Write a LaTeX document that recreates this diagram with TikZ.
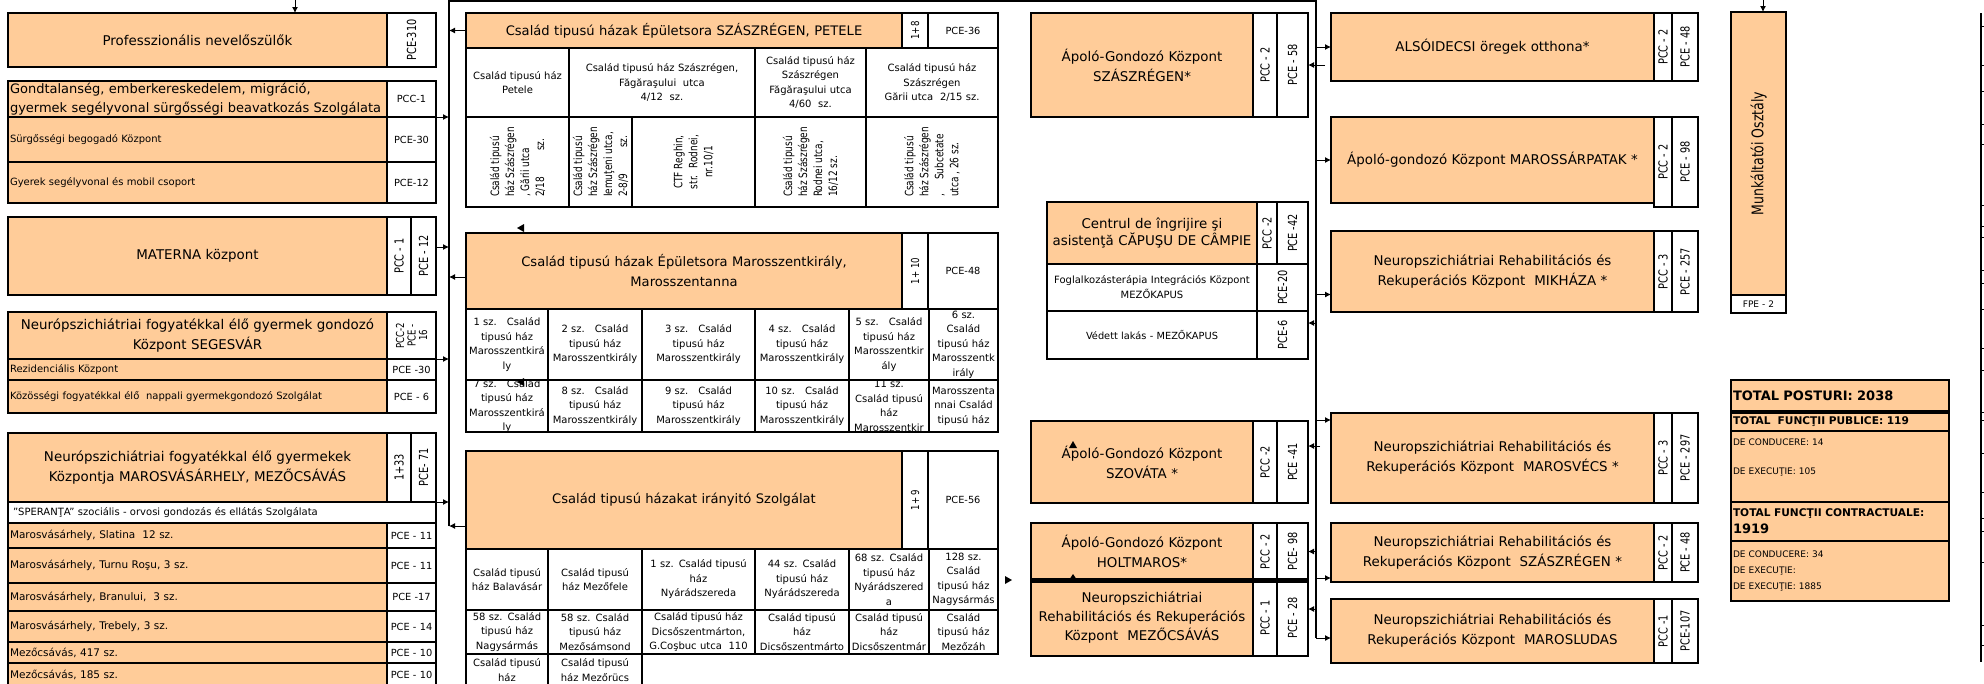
\documentclass[tikz,border=0pt]{standalone}
\usepackage{fontspec}
\setmainfont{DejaVu Sans}
\newfontfamily\narrowfont[FakeStretch=0.78]{DejaVu Sans}
\usetikzlibrary{arrows.meta}
\definecolor{orangefill}{RGB}{255,204,153}
\tikzset{
  cellbox/.style={draw, line width=2.8pt, inner sep=0pt, outer sep=0pt},
  org/.style={fill=orangefill},
  wht/.style={fill=white},
  hdr/.style={font=\fontsize{13.4}{20}\selectfont, align=center},
  sm/.style={font=\fontsize{10}{13}\selectfont, align=left},
  smE/.style={font=\fontsize{10.5}{13}\selectfont, align=left},
  lab/.style={font=\fontsize{9.8}{12}\selectfont, align=center},
  vlab/.style={font=\narrowfont\fontsize{12.5}{12}\selectfont, align=center},
  tbl/.style={font=\fontsize{10}{14.5}\selectfont, align=center},
  vtbl/.style={font=\narrowfont\fontsize{11.5}{15}\selectfont, align=left},
  tot/.style={font=\bfseries\fontsize{13}{16}\selectfont, align=left},
  totb/.style={font=\bfseries\fontsize{10.6}{17}\selectfont, align=left},
  det/.style={font=\fontsize{9}{16}\selectfont, align=left},
  bus/.style={line width=1.5pt},
  arr/.style={-{Latex[length=6pt,width=6pt]}, line width=1pt},
}
\begin{document}
\begin{tikzpicture}[x=1pt, y=-1pt]
      \def\unitbox#1#2#3#4#5#6#7{% name, style, x1, y1, x2, y2, text
        \pgfmathsetmacro\bw{#5-#3}\pgfmathsetmacro\bh{#6-#4}\pgfmathsetmacro\bt{#5-#3-4}%
        \node[cellbox, #2, minimum width=\bw pt, minimum height=\bh pt] (#1) at ({(#3+#5)/2},{(#4+#6)/2}) {};%
        \node[#2, draw=none, fill=none, inner sep=0pt, text width=\bt pt] (#1t) at (#1.center) {#7};}
      \def\rotbox#1#2#3#4#5#6#7{% name, style, x1, y1, x2, y2, text
        \pgfmathsetmacro\bw{#5-#3}\pgfmathsetmacro\bh{#6-#4}%
        \node[cellbox, wht, minimum width=\bw pt, minimum height=\bh pt] (#1) at ({(#3+#5)/2},{(#4+#6)/2}) {};%
        \node[vlab, #2, rotate=90, inner sep=0pt] (#1t) at (#1.center) {#7};}
      \def\tabbox#1#2#3#4#5#6{% name, x1, y1, x2, y2, text
        \pgfmathsetmacro\bw{#4-#2}\pgfmathsetmacro\bh{#5-#3}\pgfmathsetmacro\bt{#4-#2-4}%
        \node[cellbox, wht, line width=2pt, minimum width=\bw pt, minimum height=\bh pt] (#1) at ({(#2+#4)/2},{(#3+#5)/2}) {};%
        \begin{scope}\clip (#2+1,#3+1) rectangle (#4-1,#5-1);%
        \node[tbl, inner sep=0pt, text width=\bt pt] (#1t) at (#1.center) {#6};\end{scope}}
      \useasboundingbox (0,0) rectangle (1984,683);
      %
      % left column
      \unitbox{prof}{org, hdr}{8}{13}{387}{67}{Professzionális nevelőszülők}
      \rotbox{profc}{}{387}{13}{436}{67}{PCE-310}
      %
      \unitbox{gond}{org, align=left, font=\fontsize{13}{19}\selectfont}{8}{81}{387}{117}{Gondtalanség, emberkereskedelem, migráció,\\gyermek segélyvonal sürgősségi beavatkozás Szolgálata}
      \unitbox{gondc}{wht, lab}{387}{81}{436}{117}{PCC-1}
      \unitbox{surg}{org, sm}{8}{117}{387}{162}{Sürgősségi begogadó Központ}
      \unitbox{surgc}{wht, lab}{387}{117}{436}{162}{PCE-30}
      \unitbox{gyer}{org, sm}{8}{162}{387}{203}{Gyerek segélyvonal és mobil csoport}
      \unitbox{gyerc}{wht, lab}{387}{162}{436}{203}{PCE-12}
      %
      \unitbox{mat}{org, hdr}{8}{217}{387}{295}{MATERNA központ}
      \rotbox{mata}{}{387}{217}{411}{295}{PCC - 1}
      \rotbox{matb}{}{411}{217}{436}{295}{PCE - 12}
      %
      \unitbox{seg}{org, hdr}{8}{312}{387}{359}{Neurópszichiátriai fogyatékkal élő gyermek gondozó\\Központ SEGESVÁR}
      \rotbox{segc}{font=\narrowfont\fontsize{11}{11.5}\selectfont}{387}{312}{436}{359}{PCC-2\\PCE -\\16}
      \unitbox{rez}{org, sm}{8}{359}{387}{380}{Rezidenciális Központ}
      \unitbox{rezc}{wht, lab}{387}{359}{436}{380}{PCE -30}
      \unitbox{koz}{org, sm}{8}{380}{387}{413}{Közösségi fogyatékkal élő \ nappali gyermekgondozó Szolgálat}
      \unitbox{kozc}{wht, lab}{387}{380}{436}{413}{PCE - 6}
      %
      \unitbox{mvh}{org, hdr}{8}{433}{387}{502}{Neurópszichiátriai fogyatékkal élő gyermekek\\Központja MAROSVÁSÁRHELY, MEZŐCSÁVÁS}
      \rotbox{mvha}{}{387}{433}{411}{502}{1+33}
      \rotbox{mvhb}{}{411}{433}{436}{502}{PCE- 71}
      \unitbox{sper}{wht, sm}{8}{502}{436}{523}{\hspace{3pt}"SPERANŢA" szociális - orvosi gondozás és ellátás Szolgálata}
      \unitbox{slat}{org, smE}{8}{523}{387}{548}{Marosvásárhely, Slatina \ 12 sz.}
      \unitbox{slatc}{wht, lab}{387}{523}{436}{548}{PCE - 11}
      \unitbox{turn}{org, smE}{8}{548}{387}{583}{Marosvásárhely, Turnu Roşu, 3 sz.}
      \unitbox{turnc}{wht, lab}{387}{548}{436}{583}{PCE - 11}
      \unitbox{bran}{org, smE}{8}{583}{387}{611}{Marosvásárhely, Branului, \ 3 sz.}
      \unitbox{branc}{wht, lab}{387}{583}{436}{611}{PCE -17}
      \unitbox{treb}{org, smE}{8}{611}{387}{642}{Marosvásárhely, Trebely, 3 sz.}
      \unitbox{trebc}{wht, lab}{387}{611}{436}{642}{PCE - 14}
      \unitbox{mcsa}{org, smE}{8}{642}{387}{663}{Mezőcsávás, 417 sz.}
      \unitbox{mcsac}{wht, lab}{387}{642}{436}{663}{PCE - 10}
      \unitbox{mcsb}{org, smE}{8}{663}{387}{686}{Mezőcsávás, 185 sz.}
      \unitbox{mcsbc}{wht, lab}{387}{663}{436}{686}{PCE - 10}
      %
      % middle: Szászrégen, Petele
      \unitbox{fhdr}{org, hdr, font=\fontsize{13.1}{20}\selectfont}{466}{13}{902}{48}{Család tipusú házak Épületsora SZÁSZRÉGEN, PETELE}
      \rotbox{fa}{font=\narrowfont\fontsize{11}{12}\selectfont}{902}{13}{928}{48}{1+8}
      \unitbox{fb}{wht, lab}{928}{13}{998}{48}{PCE-36}
      \tabbox{f1}{466}{48}{569}{117}{Család tipusú ház\\Petele}
      \tabbox{f2}{569}{48}{755}{117}{Család tipusú ház Szászrégen,\\Făgăraşului \ utca\\4/12 \ sz.}
      \tabbox{f3}{755}{48}{866}{117}{Család tipusú ház\\Szászrégen\\Făgăraşului utca\\4/60 \ sz.}
      \tabbox{f4}{866}{48}{998}{117}{Család tipusú ház\\Szászrégen\\Gării utca \ 2/15 sz.}
      \rotbox{f5}{vtbl}{466}{117}{569}{207}{Család tipusú\\ház Szászrégen\\, Gării utca\\2/18 \qquad sz.}
      \rotbox{f6}{vtbl}{569}{117}{632}{207}{Család tipusú\\ház Szászrégen\\Iemuţeni utca,\\2-8/9 \qquad sz.}
      \rotbox{f7}{vtbl, align=center}{632}{117}{755}{207}{CTF Reghin,\\str. \ Rodnei,\\nr.10/1}
      \rotbox{f8}{vtbl}{755}{117}{866}{207}{Család tipusú\\ház Szászrégen\\Rodnei utca,\\16/12 sz.}
      \rotbox{f9}{vtbl}{866}{117}{998}{207}{Család tipusú\\ház Szászrégen\\, \quad Subcetate\\utca , 26 sz.}
      %
      % middle: Marosszentkirály, Marosszentanna
      \unitbox{ghdr}{org, hdr, font=\fontsize{13.1}{20}\selectfont}{466}{233}{902}{309}{Család tipusú házak Épületsora Marosszentkirály,\\Marosszentanna}
      \rotbox{ga}{font=\narrowfont\fontsize{11}{12}\selectfont}{902}{233}{928}{309}{1+ 10}
      \unitbox{gb}{wht, lab}{928}{233}{998}{309}{PCE-48}
      \tabbox{g1}{466}{309}{548}{380}{1 sz.\quad Család\\tipusú ház\\Marosszentkirá\\ly}
      \tabbox{g2}{548}{309}{642}{380}{2 sz.\quad Család\\tipusú ház\\Marosszentkirály}
      \tabbox{g3}{642}{309}{755}{380}{3 sz.\quad Család\\tipusú ház\\Marosszentkirály}
      \tabbox{g4}{755}{309}{849}{380}{4 sz.\quad Család\\tipusú ház\\Marosszentkirály}
      \tabbox{g5}{849}{309}{929}{380}{5 sz.\quad Család\\tipusú ház\\Marosszentkir\\ály}
      \tabbox{g6}{929}{309}{998}{380}{6 sz.\\Család\\tipusú ház\\Marosszentk\\irály}
      \tabbox{g7}{466}{380}{548}{432}{7 sz.\quad Család\\tipusú ház\\Marosszentkirá\\ly}
      \tabbox{g8}{548}{380}{642}{432}{8 sz.\quad Család\\tipusú ház\\Marosszentkirály}
      \tabbox{g9}{642}{380}{755}{432}{9 sz.\quad Család\\tipusú ház\\Marosszentkirály}
      \tabbox{g10}{755}{380}{849}{432}{10 sz.\quad Család\\tipusú ház\\Marosszentkirály}
      \tabbox{g11}{849}{380}{929}{432}{11 sz.\\Család tipusú\\ház\\Marosszentkir}
      \tabbox{g12}{929}{380}{998}{432}{Marosszenta\\nnai Család\\tipusú ház}
      %
      % middle: irányitó Szolgálat
      \unitbox{hhdr}{org, hdr, font=\fontsize{13.1}{20}\selectfont}{466}{451}{902}{549}{Család tipusú házakat irányitó Szolgálat}
      \rotbox{ha}{font=\narrowfont\fontsize{11}{12}\selectfont}{902}{451}{928}{549}{1+ 9}
      \unitbox{hb}{wht, lab}{928}{451}{998}{549}{PCE-56}
      \tabbox{h1}{466}{549}{548}{610}{Család tipusú\\ház Balavásár}
      \tabbox{h2}{548}{549}{642}{610}{Család tipusú\\ház Mezőfele}
      \tabbox{h3}{642}{549}{755}{610}{1 sz. Család tipusú\\ház\\Nyárádszereda}
      \tabbox{h4}{755}{549}{849}{610}{44 sz. Család\\tipusú ház\\Nyárádszereda}
      \tabbox{h5}{849}{549}{929}{610}{68 sz. Család\\tipusú ház\\Nyárádszered\\a}
      \tabbox{h6}{929}{549}{998}{610}{128 sz.\\Család\\tipusú ház\\Nagysármás}
      \tabbox{h7}{466}{610}{548}{654}{58 sz. Család\\tipusú ház\\Nagysármás}
      \tabbox{h8}{548}{610}{642}{654}{58 sz. Család\\tipusú ház\\Mezősámsond}
      \tabbox{h9}{642}{610}{755}{654}{Család tipusú ház\\Dicsőszentmárton,\\G.Coşbuc utca \ 110}
      \tabbox{h10}{755}{610}{849}{654}{Család tipusú\\ház\\Dicsőszentmárto}
      \tabbox{h11}{849}{610}{929}{654}{Család tipusú\\ház\\Dicsőszentmár}
      \tabbox{h12}{929}{610}{998}{654}{Család\\tipusú ház\\Mezőzáh}
      \tabbox{h13}{466}{654}{548}{686}{Család tipusú\\ház}
      \tabbox{h14}{548}{654}{642}{686}{Család tipusú\\ház Mezőrücs}
      %
      % third column
      \unitbox{isz}{org, hdr}{1031}{13}{1253}{117}{Ápoló-Gondozó Központ\\SZÁSZRÉGEN*}
      \rotbox{isza}{}{1253}{13}{1277}{117}{PCC - 2}
      \rotbox{iszb}{}{1277}{13}{1308}{117}{PCE - 58}
      \unitbox{cap}{org, hdr, font=\fontsize{13.4}{17.5}\selectfont}{1047}{202}{1257}{264}{Centrul de îngrijire şi\\asistenţă CĂPUŞU DE CÂMPIE\\*}
      \rotbox{capa}{}{1257}{202}{1277}{264}{PCC -2}
      \rotbox{capb}{}{1277}{202}{1308}{264}{PCE -42}
      \unitbox{fogl}{wht, lab, font=\fontsize{10}{15}\selectfont}{1047}{264}{1257}{311}{Foglalkozásterápia Integrációs Központ\\MEZŐKAPUS}
      \rotbox{foglc}{}{1257}{264}{1308}{311}{PCE-20}
      \unitbox{ved}{wht, lab}{1047}{311}{1257}{359}{Védett lakás - MEZŐKAPUS}
      \rotbox{vedc}{}{1257}{311}{1308}{359}{PCE-6}
      %
      \unitbox{szov}{org, hdr}{1031}{421}{1253}{503}{Ápoló-Gondozó Központ\\SZOVÁTA *}
      \rotbox{szova}{}{1253}{421}{1277}{503}{PCC -2}
      \rotbox{szovb}{}{1277}{421}{1308}{503}{PCE -41}
      \unitbox{holt}{org, hdr}{1031}{523}{1253}{580}{Ápoló-Gondozó Központ\\HOLTMAROS*}
      \rotbox{holta}{}{1253}{523}{1277}{580}{PCC - 2}
      \rotbox{holtb}{}{1277}{523}{1308}{580}{PCE- 98}
      \unitbox{mcs}{org, hdr, font=\fontsize{13.4}{19}\selectfont}{1031}{580}{1253}{656}{Neuropszichiátriai\\Rehabilitációs és Rekuperációs\\Központ \ MEZŐCSÁVÁS}
      \rotbox{mcsx}{}{1253}{580}{1277}{656}{PCC - 1}
      \rotbox{mcsy}{}{1277}{580}{1308}{656}{PCE - 28}
      \draw[line width=5pt] (holt.south west) -- (holtb.south east);   % double rule
      %
      % fourth column
      \unitbox{alsoi}{org, hdr}{1331}{13}{1654}{81}{ALSÓIDECSI öregek otthona*}
      \rotbox{alsoia}{}{1654}{13}{1672}{81}{PCC - 2}
      \rotbox{alsoib}{}{1672}{13}{1698}{81}{PCE - 48}
      \unitbox{sarp}{org, hdr}{1331}{117}{1654}{203}{Ápoló-gondozó Központ MAROSSÁRPATAK *}
      \rotbox{sarpa}{}{1654}{117}{1672}{207}{PCC - 2}
      \rotbox{sarpb}{}{1672}{117}{1698}{207}{PCE - 98}
      \unitbox{mikh}{org, hdr}{1331}{231}{1654}{312}{Neuropszichiátriai Rehabilitációs és\\Rekuperációs Központ \ MIKHÁZA *}
      \rotbox{mikha}{}{1654}{231}{1672}{312}{PCC - 3}
      \rotbox{mikhb}{}{1672}{231}{1698}{312}{PCE - 257}
      \unitbox{vecs}{org, hdr}{1331}{413}{1654}{503}{Neuropszichiátriai Rehabilitációs és\\Rekuperációs Központ \ MAROSVÉCS *}
      \rotbox{vecsa}{}{1654}{413}{1672}{503}{PCC - 3}
      \rotbox{vecsb}{}{1672}{413}{1698}{503}{PCE - 297}
      \unitbox{szr}{org, hdr}{1331}{523}{1654}{582}{Neuropszichiátriai Rehabilitációs és\\Rekuperációs Központ \ SZÁSZRÉGEN *}
      \rotbox{szra}{}{1654}{523}{1672}{582}{PCC - 2}
      \rotbox{szrb}{}{1672}{523}{1698}{582}{PCE - 48}
      \unitbox{lud}{org, hdr}{1331}{599}{1654}{663}{Neuropszichiátriai Rehabilitációs és\\Rekuperációs Központ \ MAROSLUDAS}
      \rotbox{luda}{}{1654}{599}{1672}{663}{PCC -1}
      \rotbox{ludb}{}{1672}{599}{1698}{663}{PCE-107}
      %
      % fifth column
      \unitbox{munk}{org}{1731}{12}{1786}{295}{}
      \node[vlab, rotate=90, font=\narrowfont\fontsize{16}{18}\selectfont] (munkl) at (munk.center) {Munkáltatói Osztály};
      \unitbox{fpe}{wht, lab, font=\fontsize{9}{10}\selectfont}{1731}{295}{1786}{313}{FPE - 2}
      \unitbox{tp}{org, tot}{1731}{380}{1949}{412}{TOTAL POSTURI: 2038}
      \unitbox{tfp}{org, totb}{1731}{412}{1949}{431}{TOTAL \ FUNCŢII PUBLICE: 119}
      \unitbox{tfpd}{org, det}{1731}{431}{1949}{502}{DE CONDUCERE: 14\\[13pt]DE EXECUŢIE: 105\\[4pt]\mbox{}}
      \unitbox{tfc}{org, totb}{1731}{502}{1949}{541}{TOTAL FUNCŢII CONTRACTUALE:\\{\fontsize{13}{16}\selectfont 1919}}
      \unitbox{tfcd}{org, det}{1731}{541}{1949}{601}{DE CONDUCERE: 34\\DE EXECUŢIE:\\DE EXECUŢIE: 1885}
      \draw[line width=4.5pt] (tp.south west) -- (tp.south east);   % double rule
      %
      % bus lines
      \coordinate (busA) at (449,526);
      \coordinate (busB) at (449,1);
      \coordinate (busC) at (1316,1);
      \coordinate (busD) at (1316,638);
      \draw[bus] (busA) -- (busB) -- (busC) -- (busD);
      \coordinate (inA) at (295,-12);
      \coordinate (inB) at (804,-12);
      \coordinate (inC) at (1763,-12);
      \draw[arr] (inA) -- (inA |- prof.north);
      \draw[arr] (inB) -- (inB |- busB);
      \draw[arr] (inC) -- (inC |- munk.north);
      %
      % left column to bus
      \draw[arr] (gondc.south east) -- (gondc.south east -| busB);
      \draw[arr] ([yshift=9pt]matb.east) -- ([yshift=9pt]matb.east -| busB);
      \draw[arr] (segc.south east) -- (segc.south east -| busB);
      \draw[arr] (mvhb.south east) -- (mvhb.south east -| busB);
      % middle boxes to bus
      \draw[arr] (fhdr.west) -- (fhdr.west -| busB);
      \draw[arr] ([yshift=-6pt]ghdr.west) -- ([yshift=-6pt]ghdr.west -| busB);
      \draw[arr] ([yshift=-26pt]hhdr.west) -- ([yshift=-26pt]hhdr.west -| busB);
      % bus to third column
      \draw[arr] ([xshift=17pt]iszb.east) -- (iszb.east);
      \draw[arr] ([yshift=12pt]vedc.east -| busC) -- ([yshift=12pt]vedc.east);
      \draw[arr] ([shift={(12pt,16pt)}]szovb.east) -- ([yshift=16pt]szovb.east);
      \draw[arr] (holtb.east -| busC) -- (holtb.east);
      \draw[arr] ([yshift=9pt]mcsy.east -| busC) -- ([yshift=9pt]mcsy.east);
      % bus to fourth column
      \draw[arr] (alsoi.west -| busC) -- (alsoi.west);
      \draw[arr] (sarp.west -| busC) -- (sarp.west);
      \draw[arr] ([yshift=-23pt]mikh.west -| busC) -- ([yshift=-23pt]mikh.west);
      \draw[arr] ([yshift=-7pt]vecs.north west -| busC) -- ([yshift=-7pt]vecs.north west);
      \draw[arr] ([yshift=4pt]szr.south west -| busC) -- ([yshift=4pt]szr.south west);
      \draw[arr] ([yshift=-7pt]lud.west -| busC) -- ([yshift=-7pt]lud.west);
      %
      % stray arrow heads
      \fill (517,228) -- ++(7,-4) -- ++(0,8) -- cycle;
      \fill (517,382) -- ++(7,-4) -- ++(0,8) -- cycle;
      \fill (1073,441) -- ++(-4,7) -- ++(8,0) -- cycle;
      \fill (1073,574) -- ++(-4,6) -- ++(8,0) -- cycle;
      \fill (1012,580) -- ++(-7,-4) -- ++(0,8) -- cycle;
      %
      % right edge rule
      \draw[line width=1.6pt] (1981,13) -- (1981,662);
      \foreach \yy in {26,65,91,124,144,205,226,237,270,283,309,348,370,412,420,453,492,518,531,562,625,645}
        \draw[line width=0.6pt] (1981,\yy) -- (1984,\yy);
      %
    \end{tikzpicture}
\end{document}
